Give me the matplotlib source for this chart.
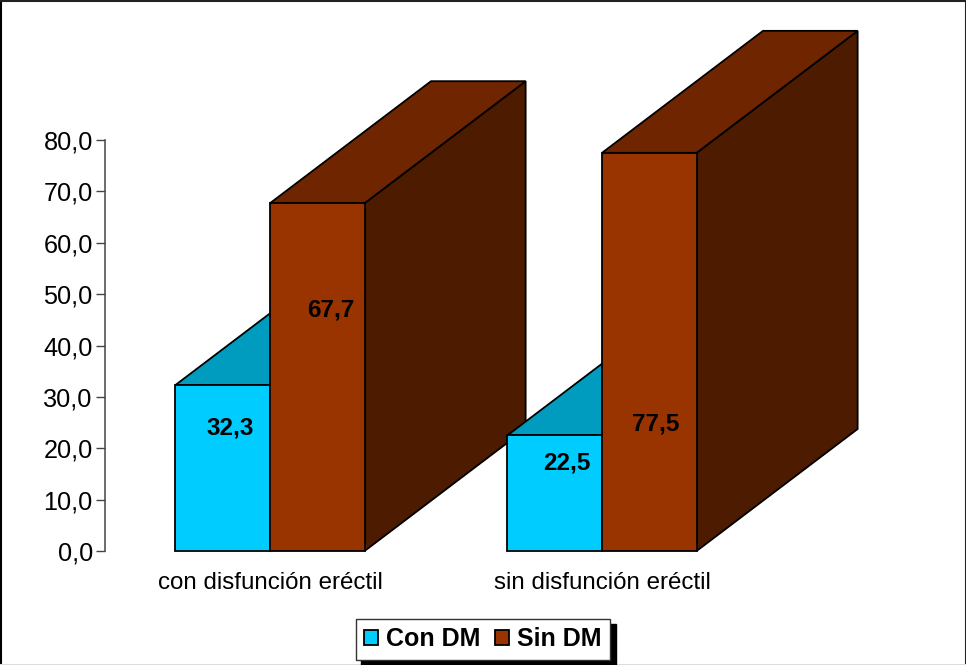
import matplotlib
matplotlib.use("Agg")
import matplotlib.pyplot as plt
from matplotlib.patches import Polygon

categories = ["con disfunción eréctil", "sin disfunción eréctil"]
con_dm = [32.3, 22.5]
sin_dm = [67.7, 77.5]
value_labels_con = ["32,3", "22,5"]
value_labels_sin = ["67,7", "77,5"]
y_ticks = [0, 10, 20, 30, 40, 50, 60, 70, 80]
y_tick_labels = ["0,0", "10,0", "20,0", "30,0", "40,0", "50,0", "60,0", "70,0", "80,0"]

plt.rcParams["font.family"] = ["Liberation Sans", "DejaVu Sans"]

W, H = 966, 665
fig = plt.figure(figsize=(W / 100, H / 100), dpi=100, facecolor="white")

# axes frame in pixels: value 0 at y=551, value 80 at y=140, categories 332 px apart
ax = fig.add_axes([105 / W, 1 - 551 / H, 664 / W, 411 / H])
ax.set_xlim(-0.497, 1.503)
ax.set_ylim(0, 80)
ax.patch.set_visible(False)
ax.set_zorder(5)

BAR_W = 0.285
DEPTH_X = 161 / 332
DEPTH_Y = 122 / (411 / 80)
EDGE = "black"
LW = 1.3


def extrude(x0, x1, value, top_color, side_color, z):
    """Draw the top and right faces that give a bar its 3D depth."""
    top = [(x0, value), (x1, value), (x1 + DEPTH_X, value + DEPTH_Y), (x0 + DEPTH_X, value + DEPTH_Y)]
    side = [(x1, 0), (x1, value), (x1 + DEPTH_X, value + DEPTH_Y), (x1 + DEPTH_X, DEPTH_Y)]
    for pts, col in ((side, side_color), (top, top_color)):
        ax.add_patch(Polygon(pts, closed=True, facecolor=col, edgecolor=EDGE,
                             linewidth=LW, zorder=z, clip_on=False, joinstyle="miter"))


base = 0
for i in range(len(categories)):
    extrude(i - BAR_W, i, con_dm[i], "#009CC0", "#007F9F", base + 1)
    b1 = ax.bar(i - BAR_W / 2, con_dm[i], BAR_W, color="#00CCFF", edgecolor=EDGE,
                linewidth=LW, zorder=base + 2, clip_on=False)
    extrude(i, i + BAR_W, sin_dm[i], "#6F2500", "#4D1B00", base + 3)
    b2 = ax.bar(i + BAR_W / 2, sin_dm[i], BAR_W, color="#993300", edgecolor=EDGE,
                linewidth=LW, zorder=base + 4, clip_on=False)
    base += 4

# value labels, offset in pixels from the bar's top centre
con_offsets = [(7, -43), (12, -28)]
sin_offsets = [(13, -107), (6, -271)]
for i in range(len(categories)):
    for x, v, txt, off in ((i - BAR_W / 2, con_dm[i], value_labels_con[i], con_offsets[i]),
                           (i + BAR_W / 2, sin_dm[i], value_labels_sin[i], sin_offsets[i])):
        ax.annotate(txt, (x, v), xytext=(off[0] * 0.72, off[1] * 0.72), textcoords="offset points",
                    ha="center", va="center", fontsize=17.5, fontweight="bold", color="black",
                    zorder=50, annotation_clip=False)

for s in ("top", "right", "bottom"):
    ax.spines[s].set_visible(False)
ax.spines["left"].set_color("#444444")
ax.spines["left"].set_linewidth(1.1)

ax.set_yticks(y_ticks, y_tick_labels, fontsize=18.2, color="black")
ax.tick_params(axis="y", length=6.5, width=1.0, color="#444444", pad=2.3)
ax.set_xticks([0, 1], categories, fontsize=17.35, color="black")
ax.tick_params(axis="x", length=0, pad=15.2)

leg = ax.legend([b1, b2], ["Con DM", "Sin DM"], ncol=2, loc="center",
                bbox_to_anchor=((483 - 105) / 664, (551 - 639.5) / 411),
                frameon=True, fancybox=False, framealpha=1, edgecolor="#333333",
                shadow={"color": "black", "alpha": 1, "ox": 4, "oy": -3.5},
                prop={"size": 18, "weight": "bold"},
                handlelength=0.56, handleheight=0.56, handletextpad=0.32,
                columnspacing=0.6, borderpad=0.33, borderaxespad=0)
leg.get_frame().set_linewidth(1.0)
for h in leg.legend_handles:
    h.set_edgecolor("black")
    h.set_linewidth(1.3)

# outer chart border: dark on the left, top and right, faint along the bottom
border = [([0.5 / W, 0.5 / W], [0, 1], "black"),
          ([0, 1], [1 - 0.5 / H, 1 - 0.5 / H], "#222222"),
          ([1 - 0.5 / W, 1 - 0.5 / W], [0, 1], "#222222"),
          ([0, 1], [0.5 / H, 0.5 / H], "#DDDDDD")]
for xs, ys, col in border:
    fig.add_artist(plt.Line2D(xs, ys, color=col, lw=1.5, transform=fig.transFigure))

fig.savefig("out.png", dpi=100, facecolor="white")
